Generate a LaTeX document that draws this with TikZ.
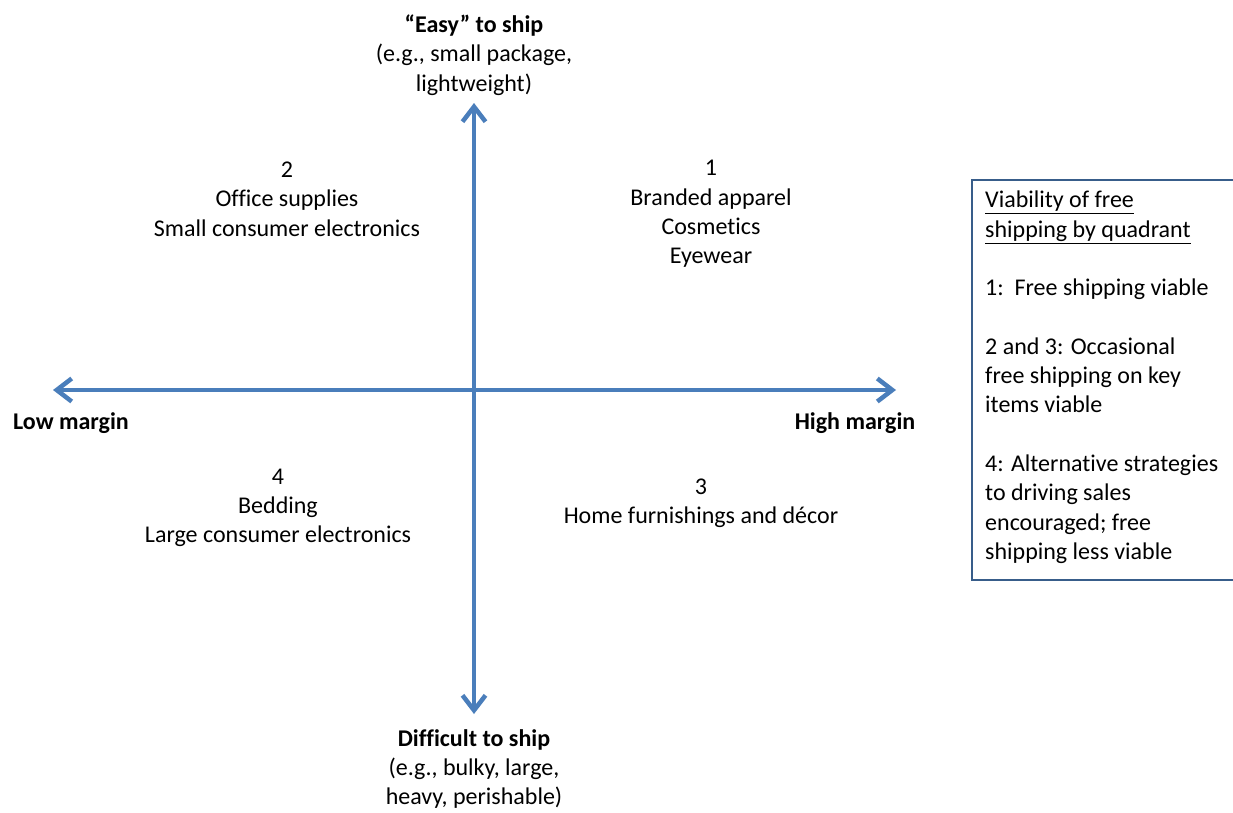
\documentclass[tikz,border=0pt]{standalone}
\usepackage{fontspec}
\setmainfont{Carlito}[Ligatures=NoCommon]
\usetikzlibrary{arrows.meta}
\definecolor{axisblue}{HTML}{4A7EBB}
\definecolor{boxblue}{HTML}{385D8A}
\begin{document}
\begin{tikzpicture}[x=1pt,y=-1pt,
  lbl/.style={align=center, font=\fontsize{24}{29.3}\selectfont, inner sep=0pt, text=black},
  boldlbl/.style={lbl, font=\fontsize{24}{29.3}\selectfont\bfseries},
  barb/.tip={Straight Barb[length=15pt,width=23pt,line width=4.5pt]},
  axis/.style={draw=axisblue, line width=4.5pt, barb-barb},
  legendtext/.style={align=left, font=\fontsize{24}{29.3}\selectfont, inner sep=0pt, anchor=north west}]
\useasboundingbox (0,0) rectangle (1233,812);
\fill[white] (0,0) rectangle (1233,812);
% axis end points
\coordinate (top) at (474,103);
\coordinate (bottom) at (474,714);
\coordinate (left) at (53,390);
\coordinate (right) at (896,390);
\draw[axis] (bottom) -- (top);
\draw[axis] (left) -- (right);
% axis labels
\node[lbl] (easy) at (474,55) {\textbf{“Easy” to ship}\\(e.g., small package,\\lightweight)};
\node[lbl] (difficult) at (474,769) {\textbf{Difficult to ship}\\(e.g., bulky, large,\\heavy, perishable)};
\node[boldlbl] (low) at (71,423) {Low margin};
\node[boldlbl] (high) at (855,423) {High margin};
% quadrants
\node[lbl] (q1) at (711,214) {1\\Branded apparel\\Cosmetics\\Eyewear};
\node[lbl] (q2) at (287,199) {2\\Office supplies\\Small consumer electronics};
\node[lbl] (q3) at (701,503) {3\\Home furnishings and décor};
\node[lbl] (q4) at (278,508) {4\\Bedding\\Large consumer electronics};
% legend box
\draw[boxblue, line width=1.5pt] (1240,180) -- (972,180) -- (972,580) -- (1240,580);
\node[legendtext] (legend) at (985,191) {\underline{Viability of free}\\
\underline{shipping by quadrant}\\[29.3pt]
1:\ \ Free shipping viable\\[29.3pt]
2 and 3: Occasional\\
free shipping on key\\
items viable\\[29.3pt]
4: Alternative strategies\\
to driving sales\\
encouraged; free\\
shipping less viable};
\end{tikzpicture}
\end{document}
